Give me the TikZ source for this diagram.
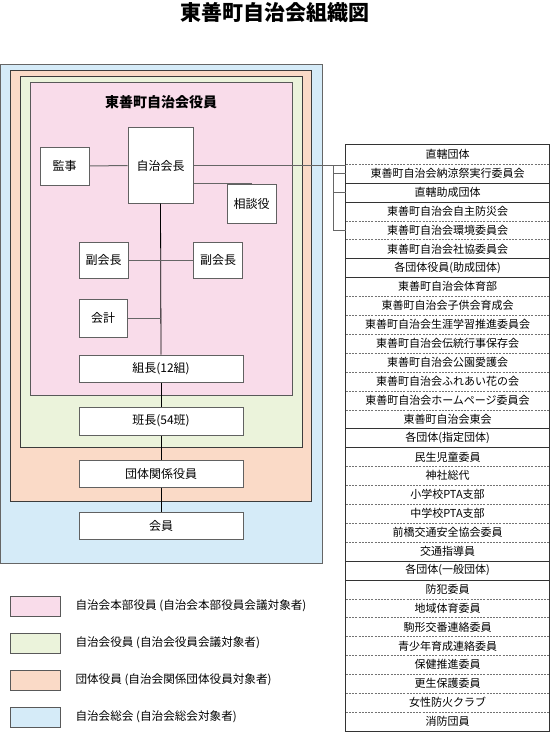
\documentclass[tikz,border=0pt]{standalone}
\usepackage{fontspec}
\setmainfont{Noto Sans CJK JP}
\usetikzlibrary{positioning, calc}
\definecolor{honbu}{HTML}{F9DCEA}
\definecolor{yakuin}{HTML}{EBF3DB}
\definecolor{dantai}{HTML}{FADAC7}
\definecolor{sokai}{HTML}{D5EBF8}
\definecolor{waku}{HTML}{3C3C3C}

\begin{document}
\begin{tikzpicture}[
    x=1pt, y=-1pt,
    font=\fontsize{12}{14}\selectfont,
    area/.style={draw=waku, line width=0.9pt},
    post/.style={rectangle, draw=black!62, fill=white, line width=1pt, inner sep=0pt, font=\fontsize{12}{14}\selectfont},
    trunk/.style={draw=black, line width=0.8pt},
    link/.style={draw=black!60, line width=1pt},
    row/.style={rectangle, minimum width=203pt, minimum height=18.9pt, inner sep=0pt, font=\fontsize{11}{12}\selectfont},
    sep/.style={draw=black!80, line width=0.8pt},
    dsep/.style={draw=black!55, dash pattern=on 2pt off 1.2pt, line width=0.5pt},
    swatch/.style={rectangle, draw=black!65, line width=0.9pt, minimum width=50pt, minimum height=20pt, inner sep=0pt},
    legtxt/.style={anchor=west, font=\fontsize{11.6}{13}\selectfont},
    ttl/.style={font=\fontsize{21}{24}\selectfont\bfseries},
  ]
  \useasboundingbox (0,0) rectangle (551,733);
  \node[ttl] (title) at (274.5,13) {東善町自治会組織図};

  % ------------------------------------------------------------------ nested areas
  \draw[area, fill=sokai, draw=black!60] (0.5,64) rectangle (322,563);
  \draw[area, fill=dantai] (10,70) rectangle (311,501);
  \draw[area, fill=yakuin] (20,76) rectangle (302,447);
  \draw[area, fill=honbu, draw=black!65] (30,82) rectangle (292,395);
  \node[font=\fontsize{14}{16}\selectfont\bfseries] (honbuttl) at (161,102) {東善町自治会役員};

  % ------------------------------------------------------------------ posts
  \node[post, minimum width=65pt, minimum height=75pt] (kaicho) at (160.5,165.5) {自治会長};
  \node[post, minimum width=49pt, minimum height=38pt] (kanji) at (64.5,166) {監事};
  \node[post, minimum width=49pt, minimum height=39pt] (soudan) at (251.5,203.5) {相談役};
  \node[post, minimum width=49pt, minimum height=36pt] (fuku1) at (103.5,260) {副会長};
  \node[post, minimum width=49pt, minimum height=36pt] (fuku2) at (218,260) {副会長};
  \node[post, minimum width=48pt, minimum height=38pt] (kaikei) at (103,318) {会計};
  \node[post, minimum width=164pt, minimum height=27pt] (kumicho) at (161,368.5) {組長(12組)};
  \node[post, minimum width=164pt, minimum height=28pt] (hancho) at (161,421) {班長(54班)};
  \node[post, minimum width=164pt, minimum height=27pt] (dantaiy) at (161,473.5) {団体関係役員};
  \node[post, minimum width=164pt, minimum height=27pt] (kaiin) at (161,525.5) {会員};

  \draw[trunk] (kaicho.south) -- (kumicho.north);
  \draw[trunk] (kumicho.south) -- (hancho.north);
  \draw[trunk] (hancho.south) -- (dantaiy.north);
  \draw[trunk] (dantaiy.south) -- (kaiin.north);
  \draw[link] (kanji.east) -- (kaicho.west);
  \draw[link] (fuku1.east) -- (fuku2.west);
  \draw[link] (kaikei.east) -- (kaikei.east -| kaicho.south);
  \draw[link] (kaicho.east |- soudan.north) -- (soudan.north);

  % ------------------------------------------------------------------ groups on the right
  \foreach \k/\txt in {1/直轄団体, 2/東善町自治会納涼祭実行委員会, 3/直轄助成団体,
      4/東善町自治会自主防災会, 5/東善町自治会環境委員会, 6/東善町自治会社協委員会,
      7/各団体役員(助成団体), 8/東善町自治会体育部, 9/東善町自治会子供会育成会,
      10/東善町自治会生涯学習推進委員会, 11/東善町自治会伝統行事保存会,
      12/東善町自治会公園愛護会, 13/東善町自治会ふれあい花の会,
      14/東善町自治会ホームページ委員会, 15/東善町自治会東会, 16/各団体(指定団体),
      17/民生児童委員, 18/神社総代, 19/小学校PTA支部, 20/中学校PTA支部,
      21/前橋交通安全協会委員, 22/交通指導員, 23/各団体(一般団体), 24/防犯委員,
      25/地域体育委員, 26/駒形交番連絡委員, 27/青少年育成連絡委員, 28/保健推進委員,
      29/更生保護委員, 30/女性防火クラブ, 31/消防団員} {
    \node[row] (r\k) at (447.5,{145+(\k-0.5)*18.9}) {\txt};
  }
  \foreach \k in {1,4,5,8,9,...,14,17,18,...,21,24,25,...,30} {
    \draw[dsep] (r\k.south west) -- (r\k.south east);
  }
  \foreach \k in {3,7,16,23} {
    \draw[sep, line width=0.6pt] (r\k.south west) -- (r\k.south east);
  }
  \foreach \k in {2,6,15,22} {
    \draw[sep, line width=1pt] (r\k.south west) -- (r\k.south east);
  }
  \draw[draw=black!80, line width=1.2pt] (r1.north west) rectangle (r31.south east);

  % ------------------------------------------------------------------ link to the table
  \coordinate (brk) at (333,165);
  \draw[link] (kaicho.east |- brk) -- (brk -| r2.west);
  \draw[link] (brk) |- (r5.west);
  \draw[link] (brk |- r2.west) -- (r2.west);
  \draw[link] (brk |- r3.west) -- (r3.west);

  % ------------------------------------------------------------------ legend
  \node[swatch, fill=honbu] (l1) at (35,606) {};
  \node[swatch, fill=yakuin] (l2) at (35,643) {};
  \node[swatch, fill=dantai] (l3) at (35,680) {};
  \node[swatch, fill=sokai] (l4) at (35,717) {};
  \node[legtxt] at (72,606) {自治会本部役員 (自治会本部役員会議対象者)};
  \node[legtxt] at (72,643) {自治会役員 (自治会役員会議対象者)};
  \node[legtxt] at (72,680) {団体役員 (自治会関係団体役員対象者)};
  \node[legtxt] at (72,717) {自治会総会 (自治会総会対象者)};
\end{tikzpicture}
\end{document}
